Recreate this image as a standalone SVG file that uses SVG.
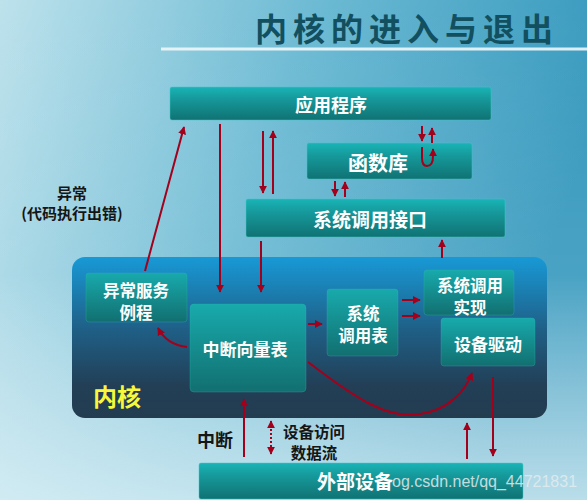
<svg xmlns="http://www.w3.org/2000/svg" width="587" height="500" viewBox="0 0 587 500">
<defs>
<linearGradient id="bgH" x1="0" y1="0" x2="1" y2="0.3">
<stop offset="0" stop-color="#bde2ec"/>
<stop offset="0.5" stop-color="#6cbad3"/>
<stop offset="1" stop-color="#3598bd"/>
</linearGradient>
<linearGradient id="bgV" x1="0" y1="0" x2="0" y2="1">
<stop offset="0" stop-color="#ffffff" stop-opacity="0"/>
<stop offset="0.55" stop-color="#ffffff" stop-opacity="0.1"/>
<stop offset="1" stop-color="#e6f5f9" stop-opacity="0.75"/>
</linearGradient>
<linearGradient id="kern" x1="0" y1="0" x2="0" y2="1">
<stop offset="0" stop-color="#1899d6"/>
<stop offset="0.45" stop-color="#1f5f86"/>
<stop offset="0.8" stop-color="#223f56"/>
<stop offset="1" stop-color="#233c50"/>
</linearGradient>
<linearGradient id="box" x1="0" y1="0" x2="0" y2="1">
<stop offset="0" stop-color="#19b4b6"/>
<stop offset="0.35" stop-color="#16999b"/>
<stop offset="1" stop-color="#107273"/>
</linearGradient>
<linearGradient id="ibox" x1="0" y1="0" x2="0" y2="1">
<stop offset="0" stop-color="#18aaac"/>
<stop offset="1" stop-color="#126f70"/>
</linearGradient>
<marker id="ah" viewBox="0 0 10 10" refX="9" refY="5" markerWidth="4" markerHeight="4" orient="auto-start-reverse" markerUnits="strokeWidth">
<path d="M0,0 L10,5 L0,10 z" fill="#a3001c"/>
</marker>
</defs>
<style>
.bx{fill:url(#box);stroke:#3cc6c6;stroke-width:0.8;stroke-opacity:0.6}
.ib{fill:url(#ibox);stroke:#2fb7b7;stroke-width:0.6;stroke-opacity:0.5}
.wt{font-family:"Noto Sans CJK SC","Noto Sans",sans-serif;font-weight:bold;fill:#ffffff;text-anchor:middle;dominant-baseline:central}
.bt{font-family:"Noto Sans CJK SC","Noto Sans",sans-serif;font-weight:bold;fill:#151515;text-anchor:middle;dominant-baseline:central}
.ar{fill:none;stroke:#a3001c;stroke-width:2;marker-end:url(#ah)}
</style>
<rect width="587" height="500" fill="url(#bgH)"/>
<rect width="587" height="500" fill="url(#bgV)"/>
<text x="255" y="27" font-family="'Noto Sans CJK SC',sans-serif" font-weight="bold" font-size="32" letter-spacing="6" fill="#124f5f" dominant-baseline="central">内核的进入与退出</text>
<rect x="161" y="47.5" width="426" height="3" fill="#eef7fa" opacity="0.9"/>

<g id="kernel">
<rect x="72" y="257" width="475" height="161" rx="13" fill="url(#kern)"/>
<text x="117" y="395" font-family="'Noto Sans CJK SC',sans-serif" font-weight="bold" font-size="24" fill="#f8f83a" text-anchor="middle" dominant-baseline="central">内核</text>
</g>

<g id="app"><rect class="bx" x="170" y="87" width="321" height="33" rx="2"/><text class="wt" x="331" y="104" font-size="18">应用程序</text></g>
<g id="lib"><rect class="bx" x="307" y="143" width="165" height="36" rx="2"/><text class="wt" x="378" y="162" font-size="20">函数库</text></g>
<g id="syscallif"><rect class="bx" x="246" y="199" width="259" height="38" rx="2"/><text class="wt" x="370" y="218" font-size="19">系统调用接口</text></g>
<g id="exc"><rect class="ib" x="86" y="273" width="101" height="49" rx="3"/><text class="wt" x="136" y="290" font-size="16.5">异常服务</text><text class="wt" x="136" y="312" font-size="16.5">例程</text></g>
<g id="ivt"><rect class="ib" x="190" y="304" width="116" height="88" rx="4"/><text class="wt" x="245" y="348" font-size="17">中断向量表</text></g>
<g id="sct"><rect class="ib" x="327" y="289" width="71" height="67" rx="3"/><text class="wt" x="363" y="313" font-size="16.5">系统</text><text class="wt" x="363" y="335" font-size="16.5">调用表</text></g>
<g id="sci"><rect class="ib" x="424" y="270" width="90" height="45" rx="3"/><text class="wt" x="470" y="285" font-size="16.5">系统调用</text><text class="wt" x="470" y="307" font-size="16.5">实现</text></g>
<g id="drv"><rect class="ib" x="441" y="318" width="94" height="48" rx="3"/><text class="wt" x="488" y="343" font-size="17">设备驱动</text></g>
<g id="dev"><rect class="bx" x="199" y="463" width="324" height="36" rx="2"/>
<text class="wt" x="355" y="480" font-size="19">外部设备</text>
<text x="392" y="481" font-family="'Liberation Sans',sans-serif" font-size="16" fill="#e3ecef" fill-opacity="0.85" dominant-baseline="central">og.csdn.net/qq_44721831</text></g>

<g id="labels">
<text class="bt" x="72" y="192" font-size="15">异常</text>
<text class="bt" x="72" y="212" font-size="15">(代码执行出错)</text>
<text class="bt" x="215" y="439" font-size="18">中断</text>
<text class="bt" x="314" y="431" font-size="15.5">设备访问</text>
<text class="bt" x="314" y="452" font-size="15.5">数据流</text>
</g>

<g id="connectors">
<path class="ar" d="M145,271 L184,127"/>
<path class="ar" d="M220,124 L220,292"/>
<path class="ar" d="M263,131 L263,193"/>
<path class="ar" d="M273,194 L273,131"/>
<path class="ar" d="M261,241 L261,292"/>
<path class="ar" d="M422,126 L422,141"/>
<path class="ar" d="M432,143 L432,128"/>
<path class="ar" d="M422,147 L422,158 Q422,166 427,166 Q433,166 433,156 L433,149"/>
<path class="ar" d="M335,181 L335,196"/>
<path class="ar" d="M345,197 L345,182"/>
<path class="ar" d="M442,258 L442,240"/>
<path class="ar" d="M308,324 L322,324"/>
<path class="ar" d="M402,300 L420,300"/>
<path class="ar" d="M402,316 L420,316"/>
<path class="ar" d="M187,347 Q167,345 158,328"/>
<path class="ar" d="M308,362 C355,398 388,420 420,414 C448,410 465,392 472,373"/>
<path class="ar" d="M244,457 L244,399"/>
<path class="ar" d="M271,421 L271,454" stroke-dasharray="2,2" style="marker-start:url(#ah)"/>
<path class="ar" d="M467,459 L467,423"/>
<path class="ar" d="M493,377 L493,456"/>
</g>
</svg>
